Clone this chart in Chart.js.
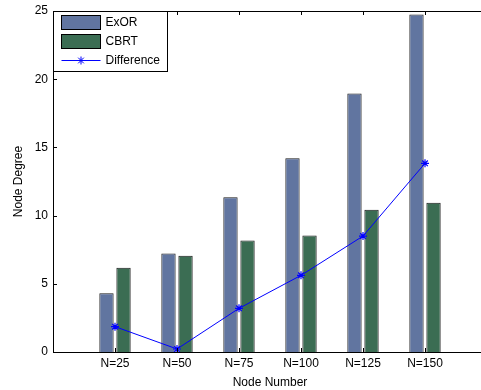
<!DOCTYPE html>
<html>
<head>
<meta charset="utf-8">
<script src="https://cdn.jsdelivr.net/npm/chart.js@4"></script>
<style>
  html, body { margin: 0; padding: 0; background: #fff; overflow: hidden; }
  #wrap { width: 487px; height: 390px; overflow: hidden; }
  canvas { display: block; }
</style>
</head>
<body>
<div id="wrap"><canvas id="grafico" width="487" height="390"></canvas></div>
<script>
// dados
const categorias = ['N=25', 'N=50', 'N=75', 'N=100', 'N=125', 'N=150'];
const exor = [4.3, 7.23, 11.35, 14.2, 18.95, 24.75];
const cbrt = [6.18, 7.06, 8.18, 8.55, 10.43, 10.95];
const diferenca = [1.86, 0.22, 3.2, 5.62, 8.5, 13.83];
const yTicks = [0, 5, 10, 15, 20, 25];

const pontos = arr => arr.map((v, i) => ({ x: i + 1, y: v }));
const fonte = { family: 'Liberation Sans, Arial, Helvetica, sans-serif', size: 12 };

// moldura e marcas dos ticks para dentro (estilo matlab)
const moldura = {
  id: 'moldura',
  afterDatasetsDraw(chart) {
    const { ctx, chartArea: a, scales } = chart;
    ctx.save();
    ctx.strokeStyle = '#000';
    ctx.lineWidth = 1;
    ctx.beginPath();
    scales.x.ticks.forEach(t => {
      const px = Math.round(scales.x.getPixelForValue(t.value)) + 0.5;
      ctx.moveTo(px, a.bottom); ctx.lineTo(px, a.bottom - 4);
      ctx.moveTo(px, a.top); ctx.lineTo(px, a.top + 4);
    });
    scales.y.ticks.forEach(t => {
      const py = Math.round(scales.y.getPixelForValue(t.value)) + 0.5;
      ctx.moveTo(a.left, py); ctx.lineTo(a.left + 4, py);
      ctx.moveTo(a.right, py); ctx.lineTo(a.right - 4, py);
    });
    ctx.stroke();
    ctx.strokeRect(Math.round(a.left) + 0.5, Math.round(a.top) + 0.5,
      Math.round(a.right - a.left), Math.round(a.bottom - a.top));
    ctx.restore();
  }
};

// legenda dentro do gráfico, canto superior esquerdo
const legenda = {
  id: 'legenda',
  afterDraw(chart) {
    const { ctx, chartArea: a } = chart;
    const left = Math.round(a.left) + 0.5, top = Math.round(a.top) + 0.5;
    ctx.save();
    ctx.fillStyle = '#fff';
    ctx.fillRect(left, top, 114, 60);
    ctx.strokeStyle = '#000';
    ctx.lineWidth = 1;
    ctx.strokeRect(left, top, 114, 60);
    ctx.font = `${fonte.size}px ${fonte.family}`;
    ctx.textBaseline = 'middle';
    chart.data.datasets.forEach((ds, i) => {
      const cy = top + 11 + 19 * i;
      if (ds.type === 'line') {
        ctx.strokeStyle = ds.borderColor;
        ctx.beginPath();
        ctx.moveTo(left + 8, cy); ctx.lineTo(left + 47, cy);
        ctx.stroke();
        Chart.helpers.drawPoint(ctx, {
          pointStyle: 'star', radius: ds.pointRadius, borderWidth: ds.pointBorderWidth
        }, left + 27.5, cy);
      } else {
        ctx.fillStyle = ds.backgroundColor;
        ctx.fillRect(left + 8, cy - 7, 39, 14);
        ctx.strokeStyle = '#000';
        ctx.strokeRect(left + 8, cy - 7, 39, 14);
      }
      ctx.fillStyle = '#000';
      ctx.fillText(ds.label, left + 52, cy + 0.5);
    });
    ctx.restore();
  }
};

new Chart(document.getElementById('grafico'), {
  type: 'bar',
  data: {
    datasets: [
      {
        label: 'ExOR', data: pontos(exor), order: 1,
        backgroundColor: '#6175a0', borderColor: '#1a1a1a', borderWidth: 1,
        categoryPercentage: 0.55, barPercentage: 0.84
      },
      {
        label: 'CBRT', data: pontos(cbrt), order: 1,
        backgroundColor: '#3b6d53', borderColor: '#1a1a1a', borderWidth: 1,
        categoryPercentage: 0.55, barPercentage: 0.84
      },
      {
        type: 'line', label: 'Difference', data: pontos(diferenca), order: 0,
        borderColor: '#0000ff', backgroundColor: '#0000ff', borderWidth: 1,
        pointStyle: 'star', pointRadius: 4, pointBorderWidth: 1.2,
        pointBorderColor: '#0000ff', fill: false, tension: 0
      }
    ]
  },
  options: {
    responsive: false,
    animation: false,
    layout: { autoPadding: false, padding: { top: 11, left: 0, right: 0, bottom: 0 } },
    plugins: { legend: { display: false }, tooltip: { enabled: false } },
    scales: {
      x: {
        type: 'linear', min: 0, max: categorias.length + 1, offset: false,
        grid: { display: false, drawTicks: false, offset: false },
        border: { display: false },
        ticks: {
          stepSize: 1, autoSkip: false, maxRotation: 0, padding: 4,
          color: '#000', font: fonte,
          callback: v => categorias[v - 1] || ''
        },
        title: { display: true, text: 'Node Number', color: '#000', font: fonte, padding: { top: 0, bottom: 0 } },
        afterFit: s => { s.height = 38; s.paddingLeft = 0; s.paddingRight = 0; }
      },
      y: {
        min: 0, max: 25,
        grid: { display: false, drawTicks: false },
        border: { display: false },
        afterBuildTicks: s => { s.ticks = yTicks.map(v => ({ value: v })); },
        ticks: { padding: 5, color: '#000', font: fonte },
        title: { display: true, text: 'Node Degree', color: '#000', font: fonte, padding: { top: 11, bottom: 0 } },
        afterFit: s => { s.width = 53; s.paddingTop = 0; s.paddingBottom = 0; }
      }
    }
  },
  plugins: [moldura, legenda]
});
</script>
</body>
</html>
